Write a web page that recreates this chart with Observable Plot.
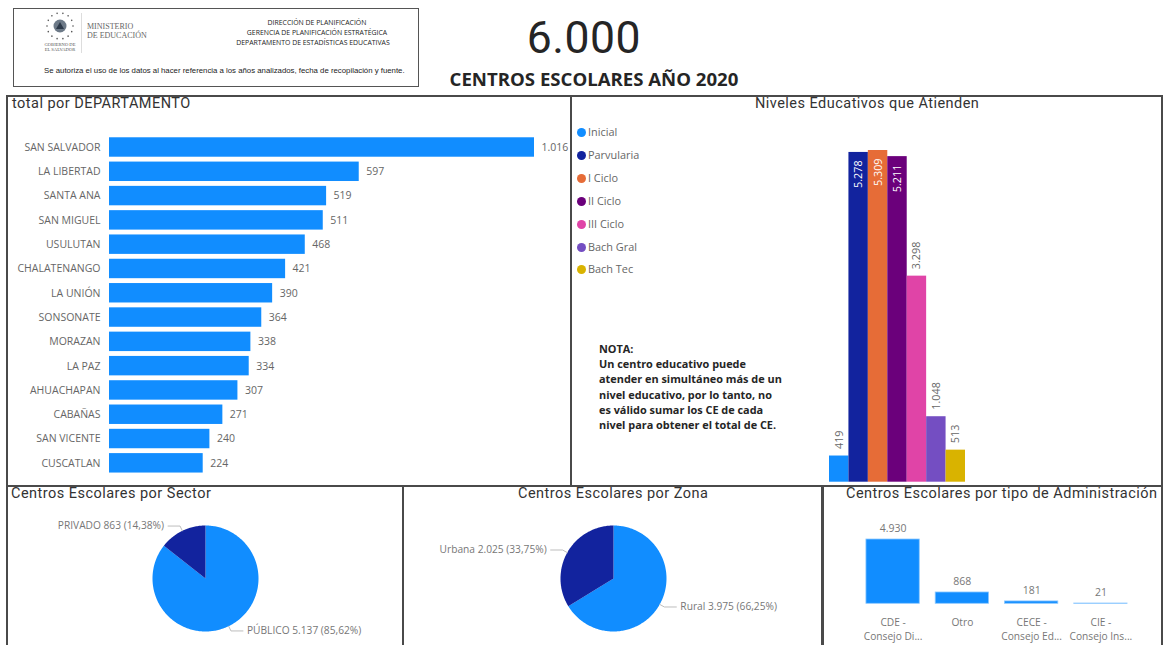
<!DOCTYPE html>
<html lang="es">
<head>
<meta charset="utf-8">
<script src="https://cdn.jsdelivr.net/npm/d3@7"></script>
<script src="https://cdn.jsdelivr.net/npm/@observablehq/plot@0.6"></script>
<style>
html,body{margin:0;padding:0;background:#fff;overflow:hidden}
#page{position:relative;width:1165px;height:645px;overflow:hidden;font-family:"Open Sans",sans-serif}
.abs{position:absolute}
.panel{position:absolute;box-sizing:border-box;border:2px solid #4a4a4a}
.ptitle{position:absolute;font-family:Roboto,sans-serif;font-size:14.5px;color:#333;letter-spacing:.47px;white-space:nowrap;line-height:16px}
.hdr{position:absolute;width:240px;left:197px;text-align:center;font-size:6.9px;color:#222;white-space:nowrap;line-height:9px}
.leg{position:absolute;left:588px;font-size:10.9px;color:#666;line-height:14px;white-space:nowrap}
.dot{position:absolute;left:577px;width:9px;height:9px;border-radius:50%}
.chart{position:absolute}
.chart svg{display:block;background:transparent}
</style>
</head>
<body>
<div id="page"></div>
<script>
const departamentos = ["SAN SALVADOR","LA LIBERTAD","SANTA ANA","SAN MIGUEL","USULUTAN","CHALATENANGO","LA UNIÓN","SONSONATE","MORAZAN","LA PAZ","AHUACHAPAN","CABAÑAS","SAN VICENTE","CUSCATLAN"];
const totalesDep = [1016,597,519,511,468,421,390,364,338,334,307,271,240,224];
const niveles = ["Inicial","Parvularia","I Ciclo","II Ciclo","III Ciclo","Bach Gral","Bach Tec"];
const totalesNivel = [419,5278,5309,5211,3298,1048,513];
const coloresNivel = ["#118dff","#12239e","#e66c37","#6b007b","#e044a7","#744ec2","#d9b300"];
const sectores = ["PÚBLICO","PRIVADO"];
const totalesSector = [5137,863];
const pctSector = ["85,62%","14,38%"];
const zonas = ["Rural","Urbana"];
const totalesZona = [3975,2025];
const pctZona = ["66,25%","33,75%"];
const admin = ["CDE","Otro","CECE","CIE"];
const adminTicks = ["CDE -\nConsejo Di...","Otro","CECE -\nConsejo Ed...","CIE -\nConsejo Ins..."];
const totalesAdmin = [4930,868,181,21];
const notaLineas = ["NOTA:","Un centro educativo puede","atender en simultáneo más de un","nivel educativo, por lo tanto, no","es válido sumar los CE de cada","nivel para obtener el total de CE."];

const BLUE = "#118dff", NAVY = "#12239e", GREY = "#666", FONT = '"Open Sans",sans-serif';
const fmt = d3.formatLocale({decimal:",",thousands:".",grouping:[3],currency:["",""]}).format(",");
const page = document.getElementById("page");

function html(cls, text, css){
  const e = document.createElement("div");
  e.className = cls; e.textContent = text; e.style.cssText = css || "";
  page.appendChild(e); return e;
}
function place(svg, left, top){
  const d = document.createElement("div");
  d.className = "chart"; d.style.left = left+"px"; d.style.top = top+"px";
  d.appendChild(svg); page.appendChild(d);
}
const baseStyle = {fontFamily:FONT, background:"transparent", overflow:"visible", color:GREY};

/* ---------- frames ---------- */
html("panel","","left:13px;top:8px;width:406px;height:79px;border-width:1px;border-color:#555");
html("panel","","left:6px;top:95px;width:566px;height:392px");
html("panel","","left:570px;top:95px;width:593px;height:392px");
html("panel","","left:6px;top:485px;width:398px;height:170px");
html("panel","","left:402px;top:485px;width:421px;height:170px");
html("panel","","left:822px;top:485px;width:341px;height:170px");

/* ---------- header ---------- */
const ns = "http://www.w3.org/2000/svg";
const emblem = document.createElementNS(ns,"svg");
emblem.setAttribute("width","30"); emblem.setAttribute("height","30");
emblem.setAttribute("viewBox","-15 -15 30 30");
emblem.style.cssText = "position:absolute;left:45px;top:11px";
d3.range(14).forEach(i=>{
  const c = document.createElementNS(ns,"circle"), a = i/14*2*Math.PI;
  c.setAttribute("cx",13*Math.cos(a)); c.setAttribute("cy",13*Math.sin(a));
  c.setAttribute("r",.8); c.setAttribute("fill","#555"); emblem.appendChild(c);
});
const core = document.createElementNS(ns,"circle");
core.setAttribute("r",6.5); core.setAttribute("fill","#6d7a88"); emblem.appendChild(core);
const tri = document.createElementNS(ns,"path");
tri.setAttribute("d","M0-4L4 3H-4Z"); tri.setAttribute("fill","#2d3a4a"); emblem.appendChild(tri);
page.appendChild(emblem);
html("abs","GOBIERNO DE","left:43px;top:42px;width:34px;text-align:center;font:4.6px/5px 'Liberation Serif',serif;color:#555;white-space:nowrap");
html("abs","EL SALVADOR","left:43px;top:47px;width:34px;text-align:center;font:4.6px/5px 'Liberation Serif',serif;color:#555;white-space:nowrap");
html("abs","","left:81px;top:13px;width:1px;height:40px;background:#ddd");
html("abs","MINISTERIO","left:87px;top:22px;font:8px/10px 'Liberation Serif',serif;color:#666;white-space:nowrap");
html("abs","DE EDUCACIÓN","left:87px;top:31px;font:8px/10px 'Liberation Serif',serif;color:#666;white-space:nowrap");
html("hdr","DIRECCIÓN DE PLANIFICACIÓN","top:18px");
html("hdr","GERENCIA DE PLANIFICACIÓN ESTRATÉGICA","top:28px");
html("hdr","DEPARTAMENTO DE ESTADÍSTICAS EDUCATIVAS","top:38px;left:193px");
html("abs","Se autoriza el uso de los datos al hacer referencia a los años analizados, fecha de recopilación y fuente.","left:44px;top:66px;font:7.8px/10px 'Liberation Sans',sans-serif;color:#222;white-space:nowrap");
html("abs","6.000","left:444px;top:8px;width:280px;text-align:center;font:44.5px/60px Roboto,sans-serif;color:#252525;letter-spacing:.5px");
html("abs","CENTROS ESCOLARES AÑO 2020","left:394px;top:67px;width:400px;text-align:center;font:700 18.6px/24px 'Open Sans',sans-serif;color:#252525;white-space:nowrap");

/* ---------- titles ---------- */
html("ptitle","total por DEPARTAMENTO","left:12px;top:96px");
html("ptitle","Niveles Educativos que Atienden","left:755px;top:96px");
html("ptitle","Centros Escolares por Sector","left:11px;top:486px");
html("ptitle","Centros Escolares por Zona","left:518px;top:486px");
html("ptitle","Centros Escolares por tipo de Administración","left:846px;top:486px");

/* ---------- departamentos ---------- */
const depRows = departamentos.map((d,i)=>({d, v:totalesDep[i]}));
place(Plot.plot({
  width:563, height:355, marginLeft:102, marginRight:36, marginTop:7.42, marginBottom:2.6,
  style:{...baseStyle, fontSize:"10.5px"},
  x:{domain:[0,1016], axis:null},
  y:{domain:departamentos, padding:.2, round:false, label:null},
  marks:[
    Plot.axisY({tickSize:0, tickPadding:9, label:null, fontSize:10.5, fill:GREY}),
    Plot.barX(depRows,{x:"v", y:"d", fill:BLUE}),
    Plot.text(depRows,{x:"v", y:"d", text:d=>fmt(d.v), textAnchor:"start", dx:7, fill:GREY, fontSize:10.5})
  ]
}),7,125);

/* ---------- niveles ---------- */
const nivRows = niveles.map((n,i)=>({n, v:totalesNivel[i], c:coloresNivel[i]}));
niveles.forEach((n,i)=>{
  const y = [132,155,178,201,224,247,269][i];
  html("dot","",`top:${y-4.5}px;background:${coloresNivel[i]}`);
  html("leg",n,`top:${y-7}px`);
});
place(Plot.plot({
  width:589, height:375, marginLeft:257, marginRight:196, marginTop:40, marginBottom:3.3,
  style:{...baseStyle, fontSize:"11px"},
  x:{domain:niveles, padding:0, round:false, axis:null},
  y:{domain:[0,5309], axis:null},
  marks:[
    Plot.barY(nivRows,{x:"n", y:"v", fill:"c"}),
    Plot.text(nivRows.filter(d=>d.v<5000),{x:"n", y:"v", text:d=>fmt(d.v), rotate:-90, textAnchor:"start", lineAnchor:"middle", dy:-7, fill:GREY, fontSize:10.8}),
    Plot.text(nivRows.filter(d=>d.v>=5000),{x:"n", y:"v", text:d=>fmt(d.v), rotate:-90, textAnchor:"end", lineAnchor:"middle", dy:8, fill:"#fff", fontSize:10.8})
  ]
}),572,110);

/* NOTA */
notaLineas.forEach((t,i)=>html("abs",t,`left:599px;top:${340.5+i*15.35}px;font:700 10.9px/15px "Open Sans",sans-serif;color:#252525;white-space:nowrap`));

/* ---------- pies ---------- */
function pie(names, values, pcts, colors, left, cx, cy){
  const W = 396, H = 140, top = 505, R = 53;
  const total = d3.sum(values);
  let acc = 0;
  const slices = names.map((n,i)=>{
    const a0 = acc/total*2*Math.PI; acc += values[i];
    return {n, v:values[i], p:pcts[i], a0, a1:acc/total*2*Math.PI, c:colors[i]};
  });
  const ptsOf = s=>{
    const k = Math.ceil((s.a1-s.a0)/.02);
    const pts = [{x:0,y:0}];
    for(let i=0;i<=k;i++){ const a = s.a0+(s.a1-s.a0)*i/k; pts.push({x:Math.sin(a),y:Math.cos(a)}); }
    return pts;
  };
  const marks = [];
  slices.forEach(s=>marks.push(Plot.line(ptsOf(s),{x:"x",y:"y",curve:"linear-closed",fill:s.c,stroke:"none"})));
  const hLen = 12/R, gap = 4/R;
  slices.forEach(s=>{
    const m = (s.a0+s.a1)/2, sx = Math.sin(m), cy_ = Math.cos(m), side = sx>=0?1:-1;
    const elbow = {x:1.1*sx, y:1.1*cy_};
    const end = {x:elbow.x+side*hLen, y:elbow.y};
    marks.push(Plot.line([{x:sx,y:cy_},elbow,end],{x:"x",y:"y",stroke:"#bdbdbd",strokeWidth:1}));
    marks.push(Plot.text([{x:end.x+side*gap,y:end.y,t:`${s.n} ${fmt(s.v)} (${s.p})`}],{x:"x",y:"y",text:"t",textAnchor:side>0?"start":"end",fill:"#777",fontSize:10.2}));
  });
  place(Plot.plot({
    width:W, height:H, margin:0, style:{...baseStyle, fontSize:"10.2px"},
    x:{domain:[-1,1], range:[cx-left-R, cx-left+R], axis:null},
    y:{domain:[-1,1], range:[cy-top+R, cy-top-R], axis:null},
    marks
  }),left,top);
}
pie(sectores,totalesSector,pctSector,[BLUE,NAVY],7,205,578);
pie(zonas,totalesZona,pctZona,[BLUE,NAVY],404,613,578);

/* ---------- administración ---------- */
const admRows = admin.map((a,i)=>({t:adminTicks[i], v:totalesAdmin[i]}));
place(Plot.plot({
  width:338, height:135, marginLeft:27, marginRight:18, marginTop:29, marginBottom:41.7,
  style:{...baseStyle, fontSize:"10.2px"},
  x:{domain:adminTicks, padding:.23, round:false, label:null},
  y:{domain:[0,4930], axis:null},
  marks:[
    Plot.axisX({tickSize:0, tickPadding:12, label:null, fontSize:10.2, fill:"#777", lineHeight:1.37, tickFormat:d=>d}),
    Plot.barY(admRows,{x:"t", y:"v", fill:BLUE, stroke:"#8cc8ff", strokeWidth:.8}),
    Plot.text(admRows,{x:"t", y:"v", text:d=>fmt(d.v), dy:-11, fill:"#777", fontSize:10.5})
  ]
}),823,510);
</script>
</body>
</html>
